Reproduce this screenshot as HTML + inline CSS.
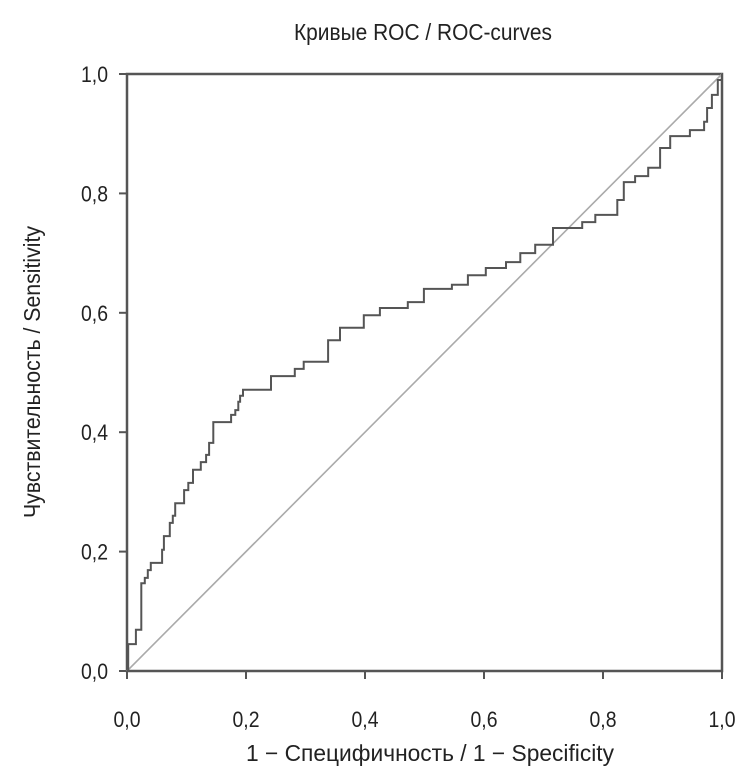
<!DOCTYPE html>
<html><head><meta charset="utf-8"><style>
body{margin:0;background:#fff;}
svg text{font-family:"Liberation Sans","DejaVu Sans",sans-serif;fill:#222;}
</style></head><body>
<svg id="chart" width="746" height="770">
<text x="423" y="40" text-anchor="middle" font-size="23" textLength="258" lengthAdjust="spacingAndGlyphs">Кривые ROC / ROC-curves</text>
<text x="430" y="761" text-anchor="middle" font-size="23" textLength="368" lengthAdjust="spacingAndGlyphs">1 − Специфичность / 1 − Specificity</text>
<text transform="translate(40,372) rotate(-90)" text-anchor="middle" font-size="23" textLength="292" lengthAdjust="spacingAndGlyphs">Чувствительность / Sensitivity</text>
<g id="axes"></g>
<g id="marks"></g>
</svg>
<script>
const xTicks=[0,0.2,0.4,0.6,0.8,1.0];
const yTicks=[0,0.2,0.4,0.6,0.8,1.0];
const tickLabels=["0,0","0,2","0,4","0,6","0,8","1,0"];
const fpr=[0.002,0.002,0.015,0.024,0.030,0.035,0.040,0.059,0.062,0.072,0.077,0.081,0.096,0.103,0.111,0.124,0.133,0.138,0.145,0.175,0.182,0.187,0.190,0.195,0.242,0.282,0.297,0.338,0.358,0.398,0.425,0.472,0.499,0.546,0.573,0.603,0.637,0.661,0.686,0.716,0.765,0.787,0.824,0.835,0.854,0.876,0.896,0.913,0.946,0.970,0.975,0.983,0.993,1.0];
const tpr=[0,0.045,0.069,0.147,0.156,0.169,0.181,0.203,0.226,0.248,0.260,0.281,0.303,0.315,0.337,0.350,0.362,0.382,0.417,0.429,0.437,0.451,0.461,0.471,0.494,0.506,0.518,0.554,0.575,0.596,0.608,0.618,0.640,0.647,0.663,0.675,0.685,0.700,0.714,0.742,0.752,0.764,0.789,0.819,0.829,0.843,0.876,0.896,0.906,0.920,0.943,0.965,0.990,1.0];
const X0=127,X1=722,Y0=671,Y1=74;
const sx=v=>X0+v*(X1-X0), sy=v=>Y0-v*(Y0-Y1);
const NS="http://www.w3.org/2000/svg";
const axes=document.getElementById('axes'), marks=document.getElementById('marks');
function mk(tag,attrs,parent){const e=document.createElementNS(NS,tag);for(const k in attrs)e.setAttribute(k,attrs[k]);parent.appendChild(e);return e;}
const frame=mk('rect',{x:X0,y:Y1,width:X1-X0,height:Y0-Y1,fill:'none',stroke:'#555','stroke-width':2.5},axes);


xTicks.forEach((v,i)=>{
  const t=mk('line',{x1:sx(v),x2:sx(v),y1:Y0,y2:Y0+8,stroke:'#555','stroke-width':2},axes);
  
  
  const l=mk('text',{x:sx(v),y:Y0+56,'text-anchor':'middle','font-size':22,textLength:27,lengthAdjust:'spacingAndGlyphs'},axes);
  l.textContent=tickLabels[i];
  
  
});
yTicks.forEach((v,i)=>{
  const t=mk('line',{x1:X0-8,x2:X0,y1:sy(v),y2:sy(v),stroke:'#555','stroke-width':2},axes);
  
  
  const l=mk('text',{x:X0-19,y:sy(v)+8,'text-anchor':'end','font-size':22,textLength:27,lengthAdjust:'spacingAndGlyphs'},axes);
  l.textContent=tickLabels[i];
  
  
});
const diag=mk('line',{x1:sx(0),y1:sy(0),x2:sx(1),y2:sy(1),stroke:'#aaa','stroke-width':1.6},marks);


let d='M'+sx(0)+','+sy(0);
for(let i=0;i<fpr.length;i++){d+=' H'+sx(fpr[i]).toFixed(1)+' V'+sy(tpr[i]).toFixed(1);}
const curve=mk('path',{d:d,fill:'none',stroke:'#555','stroke-width':2},marks);


</script>
</body></html>
